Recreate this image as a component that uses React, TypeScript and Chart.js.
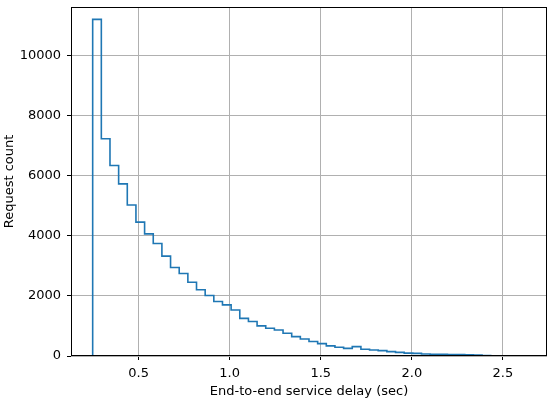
import React, { useEffect, useRef } from "react";
import { Chart, registerables } from "chart.js";

Chart.register(...registerables);

// Histogram counts per bin (50 equal-width bins)
const counts = [
  11190, 7220, 6330, 5720, 5020, 4450, 4060, 3740, 3320, 2940,
  2740, 2450, 2200, 2010, 1810, 1700, 1530, 1250, 1145, 1000,
  920, 865, 755, 645, 565, 480, 410, 335, 290, 255,
  310, 222, 200, 178, 145, 122, 95, 88, 67, 57,
  55, 52, 45, 42, 35, 15, 10, 6, 3, 1,
];
const binStart = 0.248;
const binWidth = 0.0475;
const xMin = 0.129;
const xMax = 2.742;
const yMax = 11600;
const xTicks = [0.5, 1.0, 1.5, 2.0, 2.5];
const yTicks = [0, 2000, 4000, 6000, 8000, 10000];
const xLabel = "End-to-end service delay (sec)";
const yLabel = "Request count";

export default function App() {
  const ref = useRef<HTMLCanvasElement>(null);

  useEffect(() => {
    if (!ref.current) return;
    const n = counts.length;
    const end = binStart + n * binWidth;
    const pts: { x: number; y: number }[] = [{ x: binStart, y: 0 }];
    counts.forEach((c, i) => pts.push({ x: binStart + i * binWidth, y: c }));
    pts.push({ x: end, y: counts[n - 1] });
    pts.push({ x: end, y: 0 });

    const font = { family: "'DejaVu Sans', sans-serif", size: 13 };

    const frame = {
      id: "frame",
      afterDatasetsDraw(chart: any) {
        const { ctx, chartArea: a } = chart;
        ctx.save();
        ctx.strokeStyle = "#000";
        ctx.lineWidth = 1;
        ctx.strokeRect(a.left + 0.5, a.top + 0.5, a.width - 1, a.height - 1);
        ctx.restore();
      },
    };

    const chart = new Chart(ref.current, {
      type: "line",
      data: {
        datasets: [
          {
            data: pts,
            borderColor: "#1f77b4",
            borderWidth: 1.6,
            pointRadius: 0,
            fill: false,
            stepped: "before",
            tension: 0,
            borderJoinStyle: "miter",
          },
        ],
      },
      options: {
        animation: false,
        responsive: false,
        maintainAspectRatio: false,
        layout: { padding: { top: 7, right: 3, left: 0, bottom: 0 } },
        plugins: { legend: { display: false }, tooltip: { enabled: false } },
        scales: {
          x: {
            type: "linear",
            min: xMin,
            max: xMax,
            afterBuildTicks: (s: any) => {
              s.ticks = xTicks.map((v) => ({ value: v }));
            },
            afterFit: (s: any) => {
              s.height = 44;
              s.paddingLeft = 0;
              s.paddingRight = 0;
            },
            ticks: {
              color: "#000",
              font,
              padding: 6,
              maxRotation: 0,
              autoSkip: false,
              callback: (v: any) => Number(v).toFixed(1),
            },
            grid: {
              color: "#b0b0b0",
              lineWidth: 1,
              tickColor: "#000",
              tickLength: 4,
            },
            border: { display: false },
            title: {
              display: true,
              text: xLabel,
              color: "#000",
              font,
              padding: { top: 0, bottom: 1 },
            },
          },
          y: {
            type: "linear",
            min: 0,
            max: yMax,
            afterBuildTicks: (s: any) => {
              s.ticks = yTicks.map((v) => ({ value: v }));
            },
            afterFit: (s: any) => {
              s.width = 71;
              s.paddingTop = 0;
              s.paddingBottom = 0;
            },
            ticks: {
              color: "#000",
              font,
              padding: 6,
              autoSkip: false,
              callback: (v: any) => String(v),
            },
            grid: {
              color: "#b0b0b0",
              lineWidth: 1,
              tickColor: "#000",
              tickLength: 4,
            },
            border: { display: false },
            title: {
              display: true,
              text: yLabel,
              color: "#000",
              font,
              padding: { top: 2, bottom: 0 },
            },
          },
        },
      },
      plugins: [frame],
    } as any);

    return () => chart.destroy();
  }, []);

  return (
    <div style={{ position: "fixed", left: 0, top: 0, width: 550, height: 400, background: "#fff" }}>
      <canvas ref={ref} width={550} height={400} style={{ width: 550, height: 400, display: "block" }} />
    </div>
  );
}
